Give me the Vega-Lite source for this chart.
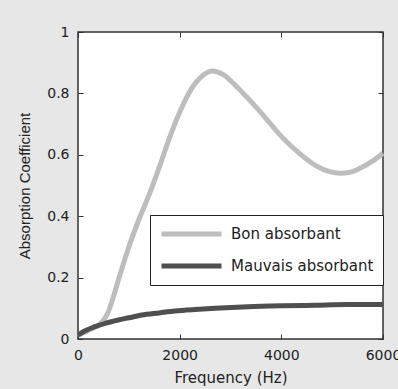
{
  "$schema": "https://vega.github.io/schema/vega-lite/v6.json",
  "width": 305,
  "height": 307,
  "autosize": {"type": "none"},
  "padding": {"left": 78, "top": 32, "right": 15, "bottom": 50},
  "background": "#e7e7e7",
  "config": {"view": {"fill": "white", "stroke": "#333", "strokeWidth": 1.5}},
  "data": {"values": [
    {"f": 0, "v": 0.012, "s": "Bon absorbant"},
    {"f": 200, "v": 0.028, "s": "Bon absorbant"},
    {"f": 400, "v": 0.045, "s": "Bon absorbant"},
    {"f": 500, "v": 0.06, "s": "Bon absorbant"},
    {"f": 600, "v": 0.09, "s": "Bon absorbant"},
    {"f": 700, "v": 0.14, "s": "Bon absorbant"},
    {"f": 800, "v": 0.195, "s": "Bon absorbant"},
    {"f": 990, "v": 0.295, "s": "Bon absorbant"},
    {"f": 1200, "v": 0.39, "s": "Bon absorbant"},
    {"f": 1400, "v": 0.47, "s": "Bon absorbant"},
    {"f": 1600, "v": 0.56, "s": "Bon absorbant"},
    {"f": 1800, "v": 0.655, "s": "Bon absorbant"},
    {"f": 1940, "v": 0.715, "s": "Bon absorbant"},
    {"f": 2100, "v": 0.775, "s": "Bon absorbant"},
    {"f": 2250, "v": 0.82, "s": "Bon absorbant"},
    {"f": 2400, "v": 0.85, "s": "Bon absorbant"},
    {"f": 2640, "v": 0.873, "s": "Bon absorbant"},
    {"f": 2850, "v": 0.862, "s": "Bon absorbant"},
    {"f": 3056, "v": 0.833, "s": "Bon absorbant"},
    {"f": 3250, "v": 0.8, "s": "Bon absorbant"},
    {"f": 3450, "v": 0.765, "s": "Bon absorbant"},
    {"f": 3700, "v": 0.718, "s": "Bon absorbant"},
    {"f": 4000, "v": 0.66, "s": "Bon absorbant"},
    {"f": 4367, "v": 0.603, "s": "Bon absorbant"},
    {"f": 4695, "v": 0.563, "s": "Bon absorbant"},
    {"f": 4950, "v": 0.545, "s": "Bon absorbant"},
    {"f": 5154, "v": 0.54, "s": "Bon absorbant"},
    {"f": 5350, "v": 0.543, "s": "Bon absorbant"},
    {"f": 5548, "v": 0.556, "s": "Bon absorbant"},
    {"f": 5800, "v": 0.58, "s": "Bon absorbant"},
    {"f": 6000, "v": 0.605, "s": "Bon absorbant"},
    {"f": 0, "v": 0.013, "s": "Mauvais absorbant"},
    {"f": 150, "v": 0.028, "s": "Mauvais absorbant"},
    {"f": 334, "v": 0.04, "s": "Mauvais absorbant"},
    {"f": 550, "v": 0.052, "s": "Mauvais absorbant"},
    {"f": 793, "v": 0.062, "s": "Mauvais absorbant"},
    {"f": 1000, "v": 0.069, "s": "Mauvais absorbant"},
    {"f": 1253, "v": 0.078, "s": "Mauvais absorbant"},
    {"f": 1600, "v": 0.085, "s": "Mauvais absorbant"},
    {"f": 1908, "v": 0.091, "s": "Mauvais absorbant"},
    {"f": 2300, "v": 0.096, "s": "Mauvais absorbant"},
    {"f": 2695, "v": 0.1, "s": "Mauvais absorbant"},
    {"f": 3344, "v": 0.105, "s": "Mauvais absorbant"},
    {"f": 4000, "v": 0.108, "s": "Mauvais absorbant"},
    {"f": 4662, "v": 0.11, "s": "Mauvais absorbant"},
    {"f": 5300, "v": 0.112, "s": "Mauvais absorbant"},
    {"f": 6000, "v": 0.112, "s": "Mauvais absorbant"}
  ]},
  "layer": [
    {
      "mark": {"type": "line", "strokeWidth": 5, "interpolate": "monotone"},
      "encoding": {
        "x": {"field": "f", "type": "quantitative",
          "scale": {"domain": [0, 6000], "nice": false, "zero": false},
          "title": "Frequency (Hz)",
          "axis": {"orient": "bottom", "values": [0, 2000, 4000, 6000], "format": "d", "domain": false, "grid": false,
            "tickSize": -5, "tickColor": "#333", "labelPadding": 14,
            "labelFont": "DejaVu Sans", "labelFontSize": 14, "labelColor": "#222", "labelFlush": false,
            "titleFont": "DejaVu Sans", "titleFontSize": 15, "titleFontWeight": "normal", "titleColor": "#222",
            "titleX": 152.5, "titleY": 38, "titleBaseline": "middle", "titleAlign": "center"}},
        "y": {"field": "v", "type": "quantitative",
          "scale": {"domain": [0, 1], "nice": false},
          "title": "Absorption Coefficient",
          "axis": {"orient": "left", "values": [0, 0.2, 0.4, 0.6, 0.8, 1], "format": "~g", "domain": false, "grid": false,
            "tickSize": -5, "tickColor": "#333", "labelPadding": 14,
            "labelFont": "DejaVu Sans", "labelFontSize": 14, "labelColor": "#222", "labelFlush": false,
            "titleFont": "Liberation Sans", "titleFontSize": 15, "titleFontWeight": "normal", "titleColor": "#222",
            "titleX": -54, "titleY": 153.5, "titleAngle": -90, "titleBaseline": "middle", "titleAlign": "center"}},
        "color": {"field": "s", "type": "nominal",
          "scale": {"domain": ["Bon absorbant", "Mauvais absorbant"], "range": ["#bdbdbd", "#4f4f4f"]},
          "legend": {"orient": "none", "legendX": 72, "legendY": 183, "title": null,
            "fillColor": "white", "strokeColor": "#222", "padding": 9,
            "symbolType": "M-1,0H7", "symbolSize": 225, "symbolStrokeWidth": 5,
            "labelOffset": 52, "labelFont": "DejaVu Sans", "labelFontSize": 15, "labelColor": "#222",
            "rowPadding": 12}}
      }
    },
    {
      "mark": {"type": "line", "opacity": 0},
      "encoding": {
        "x": {"field": "f", "type": "quantitative",
          "scale": {"domain": [0, 6000], "nice": false, "zero": false},
          "axis": {"orient": "top", "values": [0, 2000, 4000, 6000], "domain": false, "grid": false,
            "labels": false, "title": null, "tickSize": -5, "tickColor": "#333"}},
        "y": {"field": "v", "type": "quantitative",
          "scale": {"domain": [0, 1], "nice": false},
          "axis": {"orient": "right", "values": [0, 0.2, 0.4, 0.6, 0.8, 1], "domain": false, "grid": false,
            "labels": false, "title": null, "tickSize": -5, "tickColor": "#333"}},
        "detail": {"field": "s", "type": "nominal"}
      }
    }
  ],
  "resolve": {"scale": {"x": "independent", "y": "independent"}, "axis": {"x": "independent", "y": "independent"}}
}
